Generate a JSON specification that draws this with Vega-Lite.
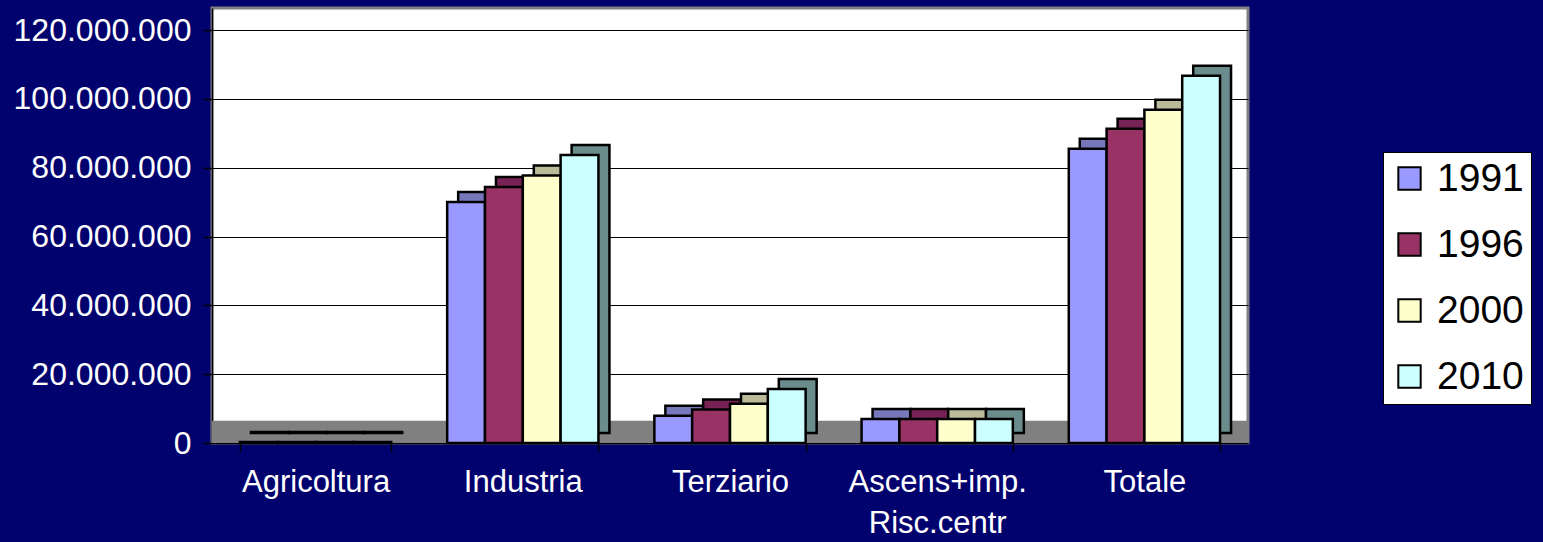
{
  "$schema": "https://vega.github.io/schema/vega-lite/v6.json",
  "width": 1036,
  "height": 435,
  "autosize": {"type": "none"},
  "padding": {"left": 212, "top": 8, "right": 295, "bottom": 99},
  "background": "#02026e",
  "config": {
    "view": {"fill": "white", "stroke": "#808080", "strokeWidth": 3},
    "font": "Liberation Sans"
  },
  "data": {
    "values": [
      {"cat": "Agricoltura", "year": "1991", "value": 300000},
      {"cat": "Agricoltura", "year": "1996", "value": 300000},
      {"cat": "Agricoltura", "year": "2000", "value": 300000},
      {"cat": "Agricoltura", "year": "2010", "value": 300000},
      {"cat": "Industria", "year": "1991", "value": 70000000},
      {"cat": "Industria", "year": "1996", "value": 74400000},
      {"cat": "Industria", "year": "2000", "value": 77700000},
      {"cat": "Industria", "year": "2010", "value": 83700000},
      {"cat": "Terziario", "year": "1991", "value": 7900000},
      {"cat": "Terziario", "year": "1996", "value": 9700000},
      {"cat": "Terziario", "year": "2000", "value": 11400000},
      {"cat": "Terziario", "year": "2010", "value": 15700000},
      {"cat": "Ascens+imp. Risc.centr", "year": "1991", "value": 7000000},
      {"cat": "Ascens+imp. Risc.centr", "year": "1996", "value": 7000000},
      {"cat": "Ascens+imp. Risc.centr", "year": "2000", "value": 7000000},
      {"cat": "Ascens+imp. Risc.centr", "year": "2010", "value": 7000000},
      {"cat": "Totale", "year": "1991", "value": 85500000},
      {"cat": "Totale", "year": "1996", "value": 91300000},
      {"cat": "Totale", "year": "2000", "value": 96800000},
      {"cat": "Totale", "year": "2010", "value": 106700000}
    ]
  },
  "layer": [
    {
      "data": {"values": [{}]},
      "mark": {"type": "rect", "color": "#808080"},
      "encoding": {
        "y": {"datum": 0, "type": "quantitative", "title": null},
        "y2": {"datum": 6500000}
      }
    },
    {
      "mark": {"type": "bar", "yOffset": -10, "y2Offset": -10, "stroke": "black", "strokeWidth": 2.5},
      "encoding": {
        "x": {"field": "cat", "type": "nominal", "sort": null, "title": null,
              "scale": {"paddingInner": 0.27, "paddingOuter": 0.135}},
        "xOffset": {"field": "year", "type": "nominal",
                    "scale": {"range": [11, 162.26], "paddingInner": 0, "paddingOuter": 0}},
        "y": {"field": "value", "type": "quantitative", "title": null},
        "fill": {"field": "year", "type": "nominal", "legend": null,
                  "scale": {"domain": ["1991", "1996", "2000", "2010"], "range": ["#7777bb", "#772255", "#bbbb99", "#6a8c8c"]}}
      }
    },
    {
      "mark": {"type": "bar", "stroke": "black", "strokeWidth": 2.5},
      "encoding": {
        "x": {"field": "cat", "type": "nominal", "sort": null, "title": null,
              "scale": {"paddingInner": 0.27, "paddingOuter": 0.135},
              "axis": {"labelAngle": 0, "labelAlign": "center", "labelBaseline": "top",
                       "labelColor": "white", "labelFontSize": 31, "labelFont": "Liberation Sans",
                       "tickBand": "extent", "tickSize": 8, "tickColor": "black", "tickWidth": 1.5,
                       "domainColor": "black", "domainWidth": 1.5, "labelPadding": 16, "labelOverlap": false,
                       "labelBound": false, "labelLineHeight": 41,
                       "labelExpr": "datum.label == 'Ascens+imp. Risc.centr' ? ['Ascens+imp.', 'Risc.centr'] : datum.label"}},
        "xOffset": {"field": "year", "type": "nominal",
                    "scale": {"range": [0, 151.26], "paddingInner": 0, "paddingOuter": 0}},
        "y": {"field": "value", "type": "quantitative", "title": null,
              "scale": {"domain": [0, 126400000], "nice": false},
              "axis": {"values": [0, 20000000, 40000000, 60000000, 80000000, 100000000, 120000000],
                       "labelExpr": "replace(format(datum.value, ','), regexp(',', 'g'), '.')",
                       "labelColor": "white", "labelFontSize": 32, "labelFont": "Liberation Sans",
                       "grid": true, "gridColor": "black", "gridWidth": 1, "gridOpacity": 1,
                       "tickColor": "black", "tickSize": 9, "tickWidth": 1.5, "labelPadding": 12,
                       "domainColor": "black", "domainWidth": 1.5}},
        "fill": {"field": "year", "type": "nominal",
                 "scale": {"domain": ["1991", "1996", "2000", "2010"], "range": ["#9999ff", "#993366", "#ffffcc", "#ccffff"]},
                 "legend": {"title": null, "orient": "none", "legendX": 1171, "legendY": 144,
                            "fillColor": "white", "strokeColor": "black", "padding": 7,
                            "symbolType": "square", "symbolSize": 500, "symbolStrokeColor": "black",
                            "symbolStrokeWidth": 2, "labelFontSize": 39, "labelColor": "black",
                            "labelFont": "Liberation Sans", "rowPadding": 26, "labelOffset": 8, "symbolOpacity": 1}}
      }
    }
  ],
  "resolve": {"scale": {"xOffset": "independent", "fill": "independent"}, "legend": {"fill": "independent"}}
}
